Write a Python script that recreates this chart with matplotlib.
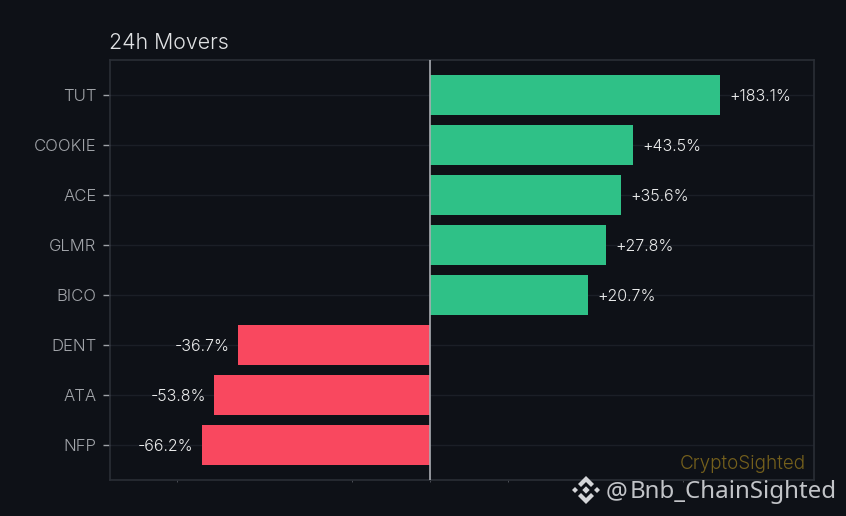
import matplotlib
matplotlib.use("Agg")
import matplotlib.pyplot as plt
from matplotlib.patches import Polygon

symbols = ["TUT", "COOKIE", "ACE", "GLMR", "BICO", "DENT", "ATA", "NFP"]
changes = [183.1, 43.5, 35.6, 27.8, 20.7, -36.7, -53.8, -66.2]
x_ticks = [-100, -10, 0, 10, 100]

BG = "#0e1117"
UP = "#2fc187"
DOWN = "#f9485f"
plt.rcParams["font.family"] = ["Inter", "DejaVu Sans"]
plt.rcParams["font.weight"] = 300

W, H = 846, 516
fig = plt.figure(figsize=(W / 100, H / 100), dpi=100, facecolor=BG)
ax = fig.add_axes([110 / W, 1 - 480 / H, 704 / W, 420 / H], facecolor=BG)
ax.set_xscale("symlog", linthresh=20, linscale=1)

colors = [UP if v > 0 else DOWN for v in changes]
ypos = list(range(len(symbols)))
ax.barh(ypos, changes, height=0.8, color=colors, zorder=3)
ax.set_xlim(-299, 857)
ax.set_ylim(len(symbols) - 0.29, -0.7)
ax.axvline(0, color="#a9adb2", lw=1.2, zorder=4)

ax.set_yticks(ypos, symbols)
ax.set_xticks(x_ticks, [""] * len(x_ticks))
ax.xaxis.set_minor_locator(matplotlib.ticker.NullLocator())
ax.tick_params(axis="y", length=5, width=1, color="#a0a3a8", labelcolor="#a2a5aa",
               labelsize=12, pad=4.8)
ax.tick_params(axis="x", length=1.5, width=0.6, color="#555860")
ax.grid(axis="y", color="#1b1f27", lw=1, zorder=0)
for s in ax.spines.values():
    s.set_color("#2a2e36")
    s.set_linewidth(1.2)

for y, v in zip(ypos, changes):
    off = 9.5 if v > 0 else -8
    ax.annotate(f"{v:+.1f}%", (v, y), xytext=(off, -1.5), textcoords="offset pixels",
                va="center", ha="left" if v > 0 else "right",
                color="#eceded", fontsize=11.5, zorder=5)

fig.text(109 / W, 1 - 49 / H, "24h Movers", color="#e0e2e4", fontsize=15.4, ha="left", va="baseline")
fig.text(806 / W, 1 - 469 / H, "CryptoSighted", color="#75601c", fontsize=13.6, ha="right", va="baseline")
fig.text(606 / W, 1 - 498 / H, "@", color="#c2c4c8", fontsize=17.5,
         family="Noto Sans", fontweight=400, ha="left", va="baseline")
fig.text(837 / W, 1 - 498 / H, "Bnb_ChainSighted", color="#c2c4c8", fontsize=17.3,
         family="Noto Sans", fontweight=400, ha="right", va="baseline")

# exchange logo beside the watermark: chevrons above and below three diamonds
LOGO = "#d4d5d8"
CX, CY = 586, 490
def logo_shape(points):
    pts = [((CX + dx) / W, 1 - (CY + dy) / H) for dx, dy in points]
    fig.add_artist(Polygon(pts, closed=True, transform=fig.transFigure, color=LOGO, lw=0))
def diamond(dx, r):
    logo_shape([(dx, -r), (dx + r, 0), (dx, r), (dx - r, 0)])
diamond(0, 3.7)
diamond(-11, 3)
diamond(11, 3)
chevron = [(0, -14), (8, -6), (5, -3), (0, -8), (-5, -3), (-8, -6)]
logo_shape(chevron)
logo_shape([(dx, -dy) for dx, dy in chevron])

fig.savefig("out.png", dpi=100, facecolor=BG)
